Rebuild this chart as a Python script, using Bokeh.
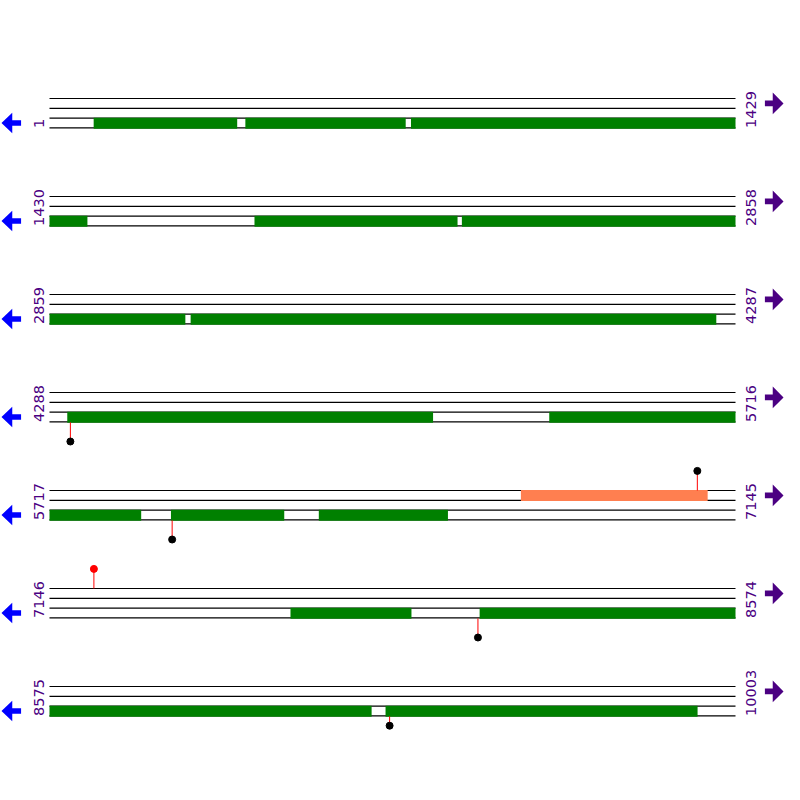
import math
from bokeh.plotting import figure
from bokeh.models import Range1d
from bokeh.core.properties import value
from bokeh.embed import file_html
from bokeh.resources import INLINE

# ---------------- data ----------------
row_starts = [1, 1430, 2859, 4288, 5717, 7146, 8575]
row_ends = [1429, 2858, 4287, 5716, 7145, 8574, 10003]

cds_starts = [93, 409, 754, 1857, 2289, 3153, 4325, 5329, 5970, 6278, 7648, 8042, 9275]
cds_ends = [391, 742, 1508, 2279, 3141, 4247, 5086, 5907, 6205, 6546, 7899, 9245, 9924]

orange_starts = [6699]
orange_ends = [7087]

down_sites = [4331, 5972, 8038, 9283]
down_levels = [2, 2, 2, 1]

up_sites = [7066, 7238]
up_levels = [2, 2]
up_dot_colors = ["black", "red"]

# ---------------- layout ----------------
ROW_LEN = 1429
PX_L, PX_R = 50, 750          # reference pixel extent of each row line
ROW0, ROW_STEP, BAND = 100, 100, 10
K = (PX_R - PX_L) / ROW_LEN


def px2u(px):
    return (px - PX_L) / K


p = figure(width=784, height=784, output_backend="svg", toolbar_location=None,
           x_range=Range1d(px2u(0), px2u(800)), y_range=Range1d(800, 0),
           min_border=0, x_axis_location=None, y_axis_location=None)
p.outline_line_color = None
p.xgrid.visible = False
p.ygrid.visible = False
p.background_fill_color = "white"
p.border_fill_color = "white"

nrows = len(row_starts)

# track lines
xs, ys = [], []
for r in range(nrows):
    top = ROW0 + ROW_STEP * r
    for k in range(4):
        xs.append([0, ROW_LEN])
        ys.append([top + BAND * k, top + BAND * k])
p.multi_line(xs, ys, line_color="black", line_width=1.2)


def split(starts, ends, band):
    L, R, T, B = [], [], [], []
    for s, e in zip(starts, ends):
        for r in range(nrows):
            a, b = max(s, row_starts[r]), min(e, row_ends[r])
            if a <= b:
                top = ROW0 + ROW_STEP * r + BAND * band
                L.append(a - row_starts[r])
                R.append(b - row_starts[r] + 1)
                T.append(top - 0.4)
                B.append(top + BAND + 0.8)
    return L, R, T, B


L, R, T, B = split(cds_starts, cds_ends, 2)
p.quad(left=L, right=R, top=T, bottom=B, fill_color="#008000", line_color=None)
L, R, T, B = split(orange_starts, orange_ends, 0)
p.quad(left=L, right=R, top=T, bottom=B, fill_color="#FF7F50", line_color=None)


def row_of(pos):
    for r in range(nrows):
        if row_starts[r] <= pos <= row_ends[r]:
            return r
    return nrows - 1


# lollipops
sx, sy, dx, dy = [], [], [], []
for pos, lev in zip(down_sites, down_levels):
    r = row_of(pos)
    u = pos - row_starts[r] + 0.5
    y0 = ROW0 + ROW_STEP * r + 3 * BAND
    y1 = y0 + BAND * lev
    sx.append([u, u]); sy.append([y0 + 0.5, y1])
    dx.append(u); dy.append(y1)
udx, udy = [], []
for pos, lev in zip(up_sites, up_levels):
    r = row_of(pos)
    u = pos - row_starts[r] + 0.5
    y0 = ROW0 + ROW_STEP * r
    y1 = y0 - BAND * lev
    sx.append([u, u]); sy.append([y0, y1])
    udx.append(u); udy.append(y1)
p.multi_line(sx, sy, line_color="red", line_width=1)
p.scatter(dx, dy, size=7, fill_color="black", line_color="black")
p.scatter(udx, udy, size=7, fill_color=up_dot_colors, line_color=up_dot_colors)

# labels
lx, ly, lt, rx, ry, rt = [], [], [], [], [], []
for r in range(nrows):
    base = ROW0 + ROW_STEP * r + 3 * BAND
    lx.append(px2u(39.5)); ly.append(base); lt.append(str(row_starts[r]))
    rx.append(px2u(765.5)); ry.append(base); rt.append(str(row_ends[r]))
for X, Y, TT in ((lx, ly, lt), (rx, ry, rt)):
    p.text(x=X, y=Y, text=TT, angle=math.pi / 2, text_align="left",
           text_baseline="alphabetic", text_font=value("DejaVu Sans"),
           text_font_size="14.5px", text_color="#4B0082")

# strand arrows
left_tpl = [(1, 0), (12, -10.5), (12, -2.7), (21, -2.7), (21, 2.7), (12, 2.7), (12, 10.5)]
right_tpl = [(799, 0), (788, -11), (788, -3), (780, -3), (780, 3), (788, 3), (788, 11)]
axs, ays, bxs, bys = [], [], [], []
for r in range(nrows):
    cy_l = ROW0 + ROW_STEP * r + 2.5 * BAND
    cy_r = ROW0 + ROW_STEP * r + 0.5 * BAND
    axs.append([px2u(a) for a, _ in left_tpl]); ays.append([cy_l + b for _, b in left_tpl])
    bxs.append([px2u(a) for a, _ in right_tpl]); bys.append([cy_r + b for _, b in right_tpl])
p.patches(axs, ays, fill_color="#0000FF", line_color=None)
p.patches(bxs, bys, fill_color="#4B0082", line_color=None)

open("out.html", "w").write(file_html(p, INLINE))
